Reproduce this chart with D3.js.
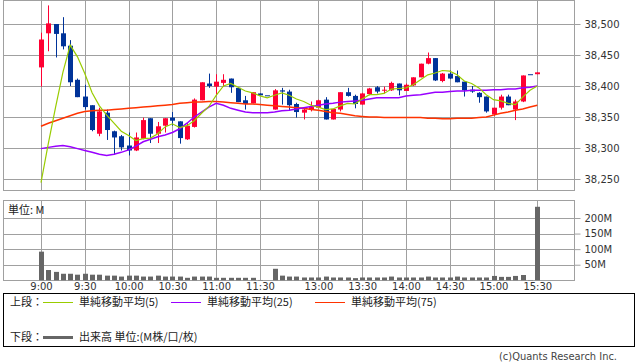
<!DOCTYPE html>
<html>
<head>
<meta charset="utf-8">
<script src="https://cdn.jsdelivr.net/npm/d3@7"></script>
<style>
  body { margin: 0; background: #fff; }
  svg { display: block; }
  .jp { font-family: "Noto Sans CJK JP", sans-serif; }
</style>
</head>
<body>
<svg id="chart" width="638" height="362"></svg>
<script>
// 5-minute bars, morning and afternoon session (one empty slot at the lunch break)
var times = ['9:00','9:05','9:10','9:15','9:20','9:25','9:30','9:35','9:40','9:45','9:50','9:55',
  '10:00','10:05','10:10','10:15','10:20','10:25','10:30','10:35','10:40','10:45','10:50','10:55',
  '11:00','11:05','11:10','11:15','11:20','11:25','11:30','',
  '12:30','12:35','12:40','12:45','12:50','12:55',
  '13:00','13:05','13:10','13:15','13:20','13:25','13:30','13:35','13:40','13:45','13:50','13:55',
  '14:00','14:05','14:10','14:15','14:20','14:25','14:30','14:35','14:40','14:45','14:50','14:55',
  '15:00','15:05','15:10','15:15','15:20','15:25','15:30']

var open = [38430,38485,38500,38485,38465,38410,38383,38369,38323,38357,38327,38319,
  38304,38296,38315,38348,38323,38336,38349,38343,38314,38334,38377,38404,
  38399,38405,38412,38397,38377,38372,38388,38385,
  38362,38393,38391,38371,38357,38362,
  38365,38378,38346,38362,38390,38384,38370,38387,38398,38393,38393,38404,
  38392,38401,38414,38436,38445,38408,38420,38416,38407,38394,38389,38383,
  38354,38365,38383,38362,38375,38419,38419]
var high = [38486,38530,38500,38511,38474,38412,38402,38369,38365,38362,38328,38321,
  38325,38325,38349,38348,38342,38348,38358,38343,38340,38380,38406,38420,
  38419,38419,38412,38397,38384,38390,38388,38385,
  38395,38397,38394,38373,38365,38375,
  38378,38382,38363,38390,38397,38386,38389,38397,38400,38399,38407,38404,
  38404,38414,38436,38454,38445,38421,38425,38425,38407,38400,38390,38383,
  38365,38386,38386,38378,38417,38419,38422]
var low = [38399,38456,38446,38459,38400,38382,38362,38327,38319,38313,38289,38296,
  38288,38295,38314,38308,38308,38325,38336,38307,38313,38333,38377,38397,
  38385,38399,38389,38374,38362,38372,38385,38385,
  38362,38370,38360,38349,38346,38359,
  38364,38346,38346,38359,38383,38364,38370,38385,38388,38388,38392,38385,
  38392,38400,38414,38435,38408,38406,38411,38406,38383,38389,38373,38357,
  38352,38362,38369,38345,38374,38419,38419]
var close = [38475,38501,38484,38464,38406,38382,38366,38329,38359,38329,38317,38301,
  38296,38317,38345,38323,38335,38348,38344,38316,38336,38378,38406,38400,
  38407,38410,38398,38374,38371,38390,38385,38385,
  38393,38391,38369,38358,38362,38366,
  38377,38346,38363,38390,38384,38371,38388,38396,38391,38394,38405,38393,
  38402,38414,38436,38445,38409,38420,38412,38406,38393,38391,38382,38359,
  38365,38383,38369,38375,38417,38419,38422]
// volume in millions
var volume = [92,33,27,21,21,18,21,18,18,15,15,12,
  15,15,12,12,15,12,12,12,8,12,12,12,
  8,8,8,8,8,8,1,0,
  37,15,12,12,9,9,
  9,12,9,9,9,7,9,9,9,9,12,9,
  9,9,9,12,9,9,9,12,9,9,9,9,
  14,11,11,14,17,1,236]

var ma5 = [38244,38307,38366,38422,38466,38447,38420,38389,38368,38353,38340,38327,
  38320,38312,38315,38316,38323,38334,38339,38333,38336,38344,38356,38367,
  38385,38400,38404,38398,38392,38389,38384,38381,
  38385,38389,38385,38379,38375,38369,
  38366,38362,38363,38368,38372,38371,38379,38386,38386,38388,38395,38396,
  38397,38402,38410,38418,38421,38425,38424,38418,38408,38404,38397,38386,
  38378,38376,38372,38370,38382,38393,38400]
var ma25 = [38299,38301,38303,38304,38302,38299,38296,38293,38290,38288,38290,38293,
  38297,38303,38310,38314,38318,38321,38325,38331,38340,38350,38358,38366,
  38372,38369,38364,38361,38358,38357,38357,38357,
  38358,38360,38361,38363,38365,38367,
  38369,38371,38372,38374,38375,38376,38377,38379,38381,38381,38381,38381,
  38384,38385,38386,38388,38390,38390,38391,38392,38392,38393,38393,38393,
  38394,38394,38395,38395,38397,38398,38400]
var ma75 = [38335,38340,38344,38348,38352,38356,38359,38360,38361,38361,38362,38363,
  38364,38365,38366,38367,38368,38369,38370,38372,38373,38374,38374,38375,
  38375,38374,38373,38372,38371,38371,38370,38369,
  38368,38367,38366,38365,38364,38362,
  38361,38359,38357,38356,38354,38352,38351,38350,38350,38349,38349,38349,
  38349,38349,38349,38348,38348,38347,38347,38348,38348,38348,38349,38350,
  38353,38356,38358,38361,38363,38366,38369]

var tickLabels = ['9:00','9:30','10:00','10:30','11:00','11:30','13:00','13:30','14:00','14:30','15:00','15:30']
var priceTicks = [38250, 38300, 38350, 38400, 38450, 38500]
var volTicks = [50, 100, 150, 200]

var svg = d3.select('#chart')
var left = 3, right = 574
var gridColor = '#a0a0a0'
var upColor = '#ff0033', downColor = '#003399'

var x = d3.scaleLinear().domain([0, times.length - 1]).range([41, 537.3])
var y = d3.scaleLinear().domain([38250, 38500]).range([179, 24])
var yv = d3.scaleLinear().domain([0, 200]).range([280.3, 218])
var crisp = function(v) { return Math.round(v) + 0.5 }
var tickIdx = tickLabels.map(function(t) { return times.indexOf(t) })

// Draw a panel with its grid
var _drawPanel = function(top, bottom, ticks, scale) {
  var g = svg.append('g').attr('stroke', gridColor).attr('fill', 'none')
  g.selectAll('line.h').data(ticks).enter().append('line')
    .attr('x1', left).attr('x2', right)
    .attr('y1', function(d) { return crisp(scale(d)) })
    .attr('y2', function(d) { return crisp(scale(d)) })
  g.selectAll('line.v').data(tickIdx).enter().append('line')
    .attr('x1', function(i) { return crisp(x(i)) })
    .attr('x2', function(i) { return crisp(x(i)) })
    .attr('y1', top).attr('y2', bottom)
  g.append('rect')
    .attr('x', left + 0.5).attr('y', top + 0.5)
    .attr('width', right - left).attr('height', bottom - top)
}
_drawPanel(0, 190, priceTicks, y)
_drawPanel(200, 280, volTicks, yv)

// Right axes
var _styleAxis = function(g) {
  g.select('.domain').remove()
  g.selectAll('line').attr('stroke', gridColor)
  g.selectAll('text').attr('fill', '#333').attr('font-family', '"DejaVu Sans", sans-serif').attr('font-size', 10)
}
svg.append('g').attr('transform', 'translate(' + (right + 0.5) + ',0)')
  .call(d3.axisRight(y).tickValues(priceTicks).tickFormat(d3.format(',')).tickSize(6).tickPadding(4))
  .call(_styleAxis)
svg.append('g').attr('transform', 'translate(' + (right + 0.5) + ',0)')
  .call(d3.axisRight(yv).tickValues(volTicks).tickFormat(function(d) { return d + 'M' }).tickSize(6).tickPadding(4))
  .call(_styleAxis)

// Time axis labels
svg.append('g').attr('transform', 'translate(0,281)')
  .call(d3.axisBottom(x).tickValues(tickIdx).tickFormat(function(i) { return times[i] }).tickSize(0).tickPadding(2))
  .call(_styleAxis)

// Candles
var idx = d3.range(times.length)
var candles = svg.append('g').selectAll('g').data(idx).enter().append('g')
  .attr('fill', function(i) { return close[i] > open[i] ? upColor : downColor })
  .attr('stroke', function(i) { return close[i] > open[i] ? upColor : downColor })
candles.append('line')
  .attr('x1', function(i) { return crisp(x(i)) }).attr('x2', function(i) { return crisp(x(i)) })
  .attr('y1', function(i) { return y(high[i]) }).attr('y2', function(i) { return y(low[i]) })
candles.append('rect')
  .attr('stroke', 'none')
  .attr('x', function(i) { return Math.round(x(i)) - 2 })
  .attr('width', 5)
  .attr('y', function(i) { return y(Math.max(open[i], close[i])) })
  .attr('height', function(i) { return Math.max(1, Math.abs(y(open[i]) - y(close[i]))) })

// Moving averages
var _drawMA = function(values, color, width) {
  var line = d3.line()
    .x(function(i) { return x(i) })
    .y(function(i) { return y(values[i]) })
    .curve(d3.curveLinear)
  svg.append('path')
    .attr('d', line(idx))
    .attr('fill', 'none')
    .attr('stroke', color)
    .attr('stroke-width', width)
}
_drawMA(ma75, '#ff3300', 1.5)
_drawMA(ma25, '#9900ff', 1.5)
_drawMA(ma5, '#99cc00', 1.2)

// Volume bars
svg.append('g').selectAll('rect').data(idx).enter().append('rect')
  .attr('fill', '#666')
  .attr('x', function(i) { return Math.round(x(i)) - 2 })
  .attr('width', 5)
  .attr('y', function(i) { return yv(volume[i]) })
  .attr('height', function(i) { return yv(0) - yv(volume[i]) })

svg.append('text').attr('class', 'jp').attr('x', 8).attr('y', 214)
  .attr('font-size', 11).attr('fill', '#222').text('単位: M')

// Legend
var legend = svg.append('g')
legend.append('rect').attr('x', 3.5).attr('y', 293.5).attr('width', 631).attr('height', 53)
  .attr('fill', 'none').attr('stroke', '#000')
var _legendItem = function(lx, ly, color, width, label) {
  legend.append('line').attr('x1', lx).attr('x2', lx + 30)
    .attr('y1', ly + 0.5).attr('y2', ly + 0.5)
    .attr('stroke', color).attr('stroke-width', width)
  legend.append('text').attr('class', 'jp').attr('x', lx + 36).attr('y', ly + 4)
    .attr('font-size', 11).attr('fill', '#222').text(label)
}
legend.append('text').attr('class', 'jp').attr('x', 10).attr('y', 306)
  .attr('font-size', 11).attr('fill', '#222').text('上段：')
legend.append('text').attr('class', 'jp').attr('x', 10).attr('y', 341)
  .attr('font-size', 11).attr('fill', '#222').text('下段：')
_legendItem(43, 302, '#99cc00', 1, '単純移動平均(5)')
_legendItem(171, 302, '#9900ff', 1, '単純移動平均(25)')
_legendItem(315, 302, '#ff3300', 1, '単純移動平均(75)')
_legendItem(43, 337, '#666', 3, '出来高 単位:(M株/口/枚)')

svg.append('text').attr('x', 617).attr('y', 360).attr('text-anchor', 'end')
  .attr('font-family', '"DejaVu Sans", sans-serif').attr('font-size', 10).attr('fill', '#444')
  .attr('textLength', 118).attr('lengthAdjust', 'spacingAndGlyphs')
  .text('(c)Quants Research Inc.')
</script>
</body>
</html>
